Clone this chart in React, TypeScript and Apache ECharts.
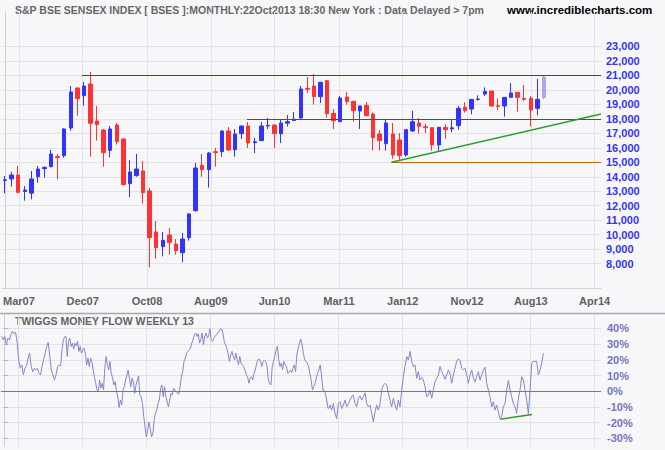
import React, { useEffect, useRef } from "react";
import * as echarts from "echarts";

// Monthly candles from Dec 2006 (index 0) to Oct 2013 (index 82): [open, close, low, high]
const candles: [number, number, number, number][] = [
  [13740, 13790, 12860, 14050], [13845, 14121, 13316, 14328], [14121, 12925, 12856, 14742], [12990, 13086, 12350, 13362],
  [12870, 13845, 12442, 14397], [14006, 14535, 13592, 14742], [14560, 14650, 13940, 14700], [14696, 15570, 14650, 15846],
  [15400, 15320, 13820, 15550], [15455, 17295, 15317, 17364], [17364, 19848, 17180, 20262], [20124, 19388, 18215, 20170],
  [19595, 20262, 18905, 20538], [20400, 17686, 15386, 21228], [17847, 17594, 16490, 18882], [17226, 15662, 14696, 17300],
  [15823, 17295, 15340, 17502], [17571, 16421, 16214, 17709], [16605, 13454, 13400, 16650], [13523, 14328, 12580, 15156],
  [14075, 14535, 14006, 15570], [14397, 12902, 12143, 15087], [13017, 9797, 7750, 13224], [10188, 9107, 8348, 10947],
  [9176, 9613, 8509, 10188], [9981, 9452, 8624, 10464], [9360, 8900, 8624, 9705], [8762, 9705, 8095, 10119],
  [9797, 11430, 9590, 11499], [11660, 14604, 11600, 14949], [14788, 14489, 14006, 15570], [14489, 15639, 13247, 15708],
  [15730, 15670, 14696, 15984], [15731, 17157, 15386, 17200], [17157, 15846, 15800, 17433], [15869, 16950, 15386, 17295],
  [16973, 17502, 16605, 17530], [17502, 16329, 15984, 17778], [16350, 16420, 15639, 16674], [16490, 17502, 16467, 17778],
  [17500, 17548, 17295, 18054], [17571, 16973, 15984, 17600], [16973, 17709, 16329, 17916], [17700, 17800, 17456, 18261],
  [17880, 17970, 17870, 18468], [18054, 20055, 18000, 20262], [20100, 20032, 19778, 20883], [20262, 19526, 18974, 21090],
  [19526, 20515, 19089, 20550], [20630, 18353, 18077, 20676], [18376, 17870, 17295, 18675], [17801, 19434, 17780, 19572],
  [19503, 19181, 18974, 19848], [19204, 18560, 17801, 19250], [18537, 18882, 17295, 18900], [18928, 18215, 18169, 19158],
  [18330, 16697, 15800, 18445], [16950, 16490, 15800, 17226], [16283, 17709, 15800, 17916], [16950, 15501, 15248, 17709],
  [16536, 15455, 15179, 17019], [15500, 17250, 15386, 17280], [17157, 17800, 17100, 18560], [17709, 17479, 16973, 18054],
  [17450, 17387, 17019, 17640], [17387, 16191, 15800, 17400], [16191, 17410, 15800, 17420], [17410, 17249, 16628, 17617],
  [17300, 17380, 17065, 17962], [17525, 18721, 17249, 18882], [18790, 18560, 18422, 19135], [18675, 19342, 18307, 19350],
  [19330, 19365, 19250, 19618], [19710, 19894, 19572, 20170], [19917, 18882, 18836, 19920], [18900, 18859, 18606, 19411],
  [18882, 19480, 18146, 19500], [19480, 19779, 19460, 20469], [19825, 19480, 18491, 19830], [19400, 19342, 19227, 20331],
  [19411, 18606, 17456, 19572], [18721, 19342, 18238, 20745], [19457, 20883, 19342, 20952],
];

// Twiggs Money Flow (weekly, %) in three stretches: start month index and step in months
const tmfAStart = -0.4, tmfAStep = 0.236;
const tmfA = [
  35, 32.8, 35, 29.6, 33.9, 32.8, 36.1, 38.2, 36.7, 37.6,
  30.7, 20.0, 14.7, 16.8, 10.4, 14.7, 16.2, 21.1, 24.3, 15.8,
  12.5, 14.7, 13.6, 14.7, 11.5, 10.4, 15.8, 20.0, 24.3, 28.6,
  31.1, 22.2, 13.6, 10.4, 7.2, 10.4, 15.8, 16.8, 16.2,
];
const tmfBStart = 8.77, tmfBStep = 0.1972;
const tmfB = [
  26.4, 32.8, 34.6, 35.0, 22.2, 31.8, 33.9, 28.6, 30.7, 26.9, 30.7,
  29.0, 31.8, 25.4, 28.6, 24.3, 26.4, 27.5, 24.3, 16.8, 21.1,
  15.8, 21.1, 19.0, 13.6, 8.9, 5.1, 0.8, 0.2, 7.2, 1.9,
  5.1, 0.8, 14.7, 22.2, 16.8, 13.6, 19.0, 11.5, 8.3, 4.0,
  6.1, 0.2, -3.5, -10.3, -5.6, -8.8, 0.8, 2.9, 7.2, 10.4,
  13.6, 8.3, 2.9, 8.3, 6.1, -1.3, 4.0, 7.2, 9.8, -2.4,
  -3.5, -7.8, -16.3, -22.7, -29.1, -24.8, -19.5, -23.8, -29.1, -27.0,
  -18.4, -14.2, -12.0, -7.8, -5.6, 1.9, 4.0, -3.5, 2.9, -3.5,
  -6.7, -9.9, -5.6, -1.3, -2.4, 1.9, 0.8, -0.3, -1.3, -1.8,
  2.9, 9.3, 12.5, 19.0, 21.1, 24.3, 25.4, 26.4, 27.5, 30.7,
  32.8, 36.1, 37.1, 35.0, 36.7, 30.7, 33.3, 37.1, 29.6, 35.0,
  37.1, 33.9, 35.0, 39.9, 32.8, 31.8, 33.9, 35.0, 36.1, 37.1,
  38.2, 39.7, 39.7, 37.1, 31.8, 29.6, 27.5, 24.3, 19.0, 23.2,
  25.4, 22.2, 20.0, 24.3, 20.0, 16.8, 22.2, 17.9, 16.8, 15.8,
  13.6, 10.4, 9.3, 5.1, 8.3, 9.3, 7.2, 11.5, 13.6, 17.9,
  20.0, 20.5, 19.0, 15.8, 19.0, 20.0, 19.0, 15.8, 7.2, 5.1,
  4.0, 15.8, 19.0, 22.2, 26.4, 28.6, 20.0, 15.8, 17.9, 13.6,
  19.0, 16.8, 15.8, 11.5, 12.5, 13.6, 11.9, 14.7, 16.8, 12.5,
  23.2, 27.5, 30.7, 33.3, 29.6, 24.3, 20.0, 19.0, 17.9, 15.8,
  11.5, 7.2, 0.8, 2.9, 5.1, 8.3, 11.5, 13.6, 16.8, 10.4,
  0.8, 0.8, -1.3, -5.6, -11.0, -10.3,
];
const tmfCStart = 49.5, tmfCStep = 0.2533;
const tmfC = [
  -8.8, -12.0, -7.8, -14.2, -17.4, -7.8, -6.7, -11.0, -8.8, -5.6,
  -9.9, -7.8, -5.6, -3.5, -2.4, -7.8, -9.9, -4.5, -3.0, -5.6,
  -3.5, -0.9, -7.8, -9.9, -8.8, -14.2, -19.5, -13.1, -8.8, -12.0,
  -7.8, 0.8, 4.0, 5.1, 4.0, -1.3, -5.6, -9.9, -4.5, -8.8,
  -12.0, -5.6, -9.9, 0.8, 9.3, 15.8, 22.2, 20.0, 25.4, 19.0,
  15.8, 16.8, 8.3, 12.5, 7.2, 8.9, 7.2, 2.9, -3.5, -2.4,
  0.8, -4.5, 0.8, 6.1, 8.3, 10.4, 15.8, 12.5, 10.4, 7.6,
  10.4, 13.6, 11.5, 5.1, 10.4, 14.7, 19.0, 20.7, 19.6, 14.7,
  13.6, 14.7, 10.4, 5.1, 10.4, 13.6, 8.3, 6.1, 9.3, 12.5,
  7.2, 10.4, 13.6, 15.3, 5.1, 0.8, -3.5, -9.9, -6.7, -12.0,
  -8.8, -13.1, -17.4, -15.9, -9.9, -7.8, 0.8, 6.8, 0.8, -3.5,
  -7.8, -9.9, -14.2, -4.5, 0.8, 9.3, 7.2, 0.8, -5.6, -14.2,
  0.8, 17.9, 19.0, 19.0, 19.0, 10.4, 13.6, 17.9, 24.3,
];

// Axis ticks
const xTickMonths = [2.1, 11.8, 21.6, 31.3, 41.0, 50.8, 60.5, 70.3, 80.0, 89.7];
const xTickLabels = ["Mar07", "Dec07", "Oct08", "Aug09", "Jun10", "Mar11", "Jan12", "Nov12", "Aug13", "Apr14"];
const priceTicks = [8000, 9000, 10000, 11000, 12000, 13000, 14000, 15000, 16000, 17000, 18000, 19000, 20000, 21000, 22000, 23000];
const tmfTicks = [-30, -20, -10, 0, 10, 20, 30, 40];

// Annotation levels: [value, starting month index]
const resistanceTop = [21000, 11.7];
const supportMid = [18000, 36.8];
const supportLow = [15000, 58.8];
const trendStart = [58.8, 15000];
const trendEnd = [90.68, 18329];
const tmfTrendStart = [75.4, -17.8];
const tmfTrendEnd = [80.2, -14.8];

const X_MIN = -0.5;
const X_MAX = 90.68;

const FONT = '"Liberation Sans", Arial, sans-serif';

export default function App() {
  const ref = useRef<HTMLDivElement>(null);

  useEffect(() => {
    if (!ref.current) return;
    const chart = echarts.init(ref.current, undefined, { renderer: "svg" });

    const candleData = candles.map((c, i) => {
      const v = [i, c[0], c[1], c[2], c[3]];
      if (i === candles.length - 1) {
        return { value: v, itemStyle: { color: "#a9a9f2", borderColor: "#a9a9f2" } };
      }
      return v;
    });

    const tmfData: number[][] = [];
    tmfA.forEach((v, i) => tmfData.push([tmfAStart + i * tmfAStep, v]));
    tmfB.forEach((v, i) => tmfData.push([tmfBStart + i * tmfBStep, v]));
    tmfC.forEach((v, i) => tmfData.push([tmfCStart + i * tmfCStep, v]));

    const xLabelFormatter = (v: number) => {
      const i = xTickMonths.findIndex((m) => Math.abs(m - v) < 0.01);
      return i >= 0 ? xTickLabels[i] : "";
    };

    const levelLine = (lvl: number[], color: string) => [
      { coord: [lvl[1], lvl[0]], lineStyle: { color, width: 1, type: "solid" } },
      { coord: [X_MAX, lvl[0]], lineStyle: { color, width: 1, type: "solid" } },
    ];

    const gridLineColor = "#e3e3e7";

    chart.setOption({
      animation: false,
      backgroundColor: "#f7f7f9",
      grid: [
        { left: 1, top: 12, width: 600, height: 276.3, containLabel: false },
        { left: 1, top: 315, width: 600, height: 131.7, containLabel: false },
      ],
      xAxis: [
        {
          type: "value", gridIndex: 0, min: X_MIN, max: X_MAX,
          axisLine: { show: true, lineStyle: { color: "#d4d4d8" } },
          axisTick: { show: false, customValues: xTickMonths },
          axisLabel: {
            customValues: xTickMonths, formatter: xLabelFormatter, color: "#606060",
            fontWeight: "bold", fontSize: 11, fontFamily: FONT, margin: 7,
          },
          splitLine: { show: true, lineStyle: { color: gridLineColor } },
        },
        {
          type: "value", gridIndex: 1, min: X_MIN, max: X_MAX,
          axisLine: { show: false },
          axisTick: { show: false, customValues: xTickMonths },
          axisLabel: { show: false, customValues: xTickMonths },
          splitLine: { show: true, lineStyle: { color: gridLineColor } },
        },
      ],
      yAxis: [
        {
          type: "value", gridIndex: 0, position: "right", min: 6303, max: 25368,
          axisLine: { show: true, lineStyle: { color: "#d0d0d4" } },
          axisTick: { show: false, customValues: priceTicks },
          axisLabel: {
            customValues: priceTicks, formatter: (v: number) => v.toLocaleString("en-US"),
            color: "#3535f2", fontWeight: "bold", fontSize: 11, fontFamily: FONT, margin: 5,
          },
          splitLine: { show: true, lineStyle: { color: gridLineColor } },
        },
        {
          type: "value", gridIndex: 1, position: "right", min: -35.3, max: 48.6,
          axisLine: { show: true, lineStyle: { color: "#d0d0d4" } },
          axisTick: { show: true, length: 4, lineStyle: { color: "#b4b4bc" }, customValues: tmfTicks },
          axisLabel: {
            customValues: tmfTicks, formatter: (v: number) => `${v}%`,
            color: "#7474c4", fontWeight: "bold", fontSize: 11, fontFamily: FONT, margin: 6,
          },
          splitLine: { show: true, lineStyle: { color: gridLineColor } },
        },
      ],
      series: [
        {
          type: "candlestick",
          xAxisIndex: 0, yAxisIndex: 0,
          data: candleData,
          encode: { x: 0, y: [1, 2, 3, 4] },
          barWidth: 4,
          itemStyle: {
            color: "#3333ff", color0: "#ff3333",
            borderColor: "#3333ff", borderColor0: "#ff3333", borderWidth: 1,
          },
          markLine: {
            silent: true, symbol: "none", label: { show: false }, animation: false,
            data: [
              levelLine(resistanceTop, "#0a700a"),
              levelLine(supportMid, "#e01010"),
              levelLine(supportLow, "#c86400"),
              [
                { coord: trendStart, lineStyle: { color: "#2f9a2f", width: 1.5, type: "solid" } },
                { coord: trendEnd, lineStyle: { color: "#2f9a2f", width: 1.5, type: "solid" } },
              ],
            ],
          },
        },
        {
          type: "line",
          xAxisIndex: 1, yAxisIndex: 1,
          data: tmfData,
          showSymbol: false,
          symbol: "none",
          lineStyle: { color: "#8585cc", width: 1 },
          markLine: {
            silent: true, symbol: "none", label: { show: false }, animation: false,
            data: [
              { yAxis: 0, lineStyle: { color: "#7070b8", width: 1, type: "solid" } },
              [
                { coord: tmfTrendStart, lineStyle: { color: "#2f9a2f", width: 1.5, type: "solid" } },
                { coord: tmfTrendEnd, lineStyle: { color: "#2f9a2f", width: 1.5, type: "solid" } },
              ],
            ],
          },
        },
      ],
      graphic: [
        {
          type: "line", silent: true,
          shape: { x1: 0, y1: 313.5, x2: 665, y2: 313.5 },
          style: { stroke: "#a8a8ac", lineWidth: 1.5 },
        },
        {
          type: "text", x: 15, y: 10, silent: true,
          style: {
            text: "S&P BSE SENSEX INDEX [ BSES ]:MONTHLY:22Oct2013 18:30 New York : Data Delayed > 7pm",
            font: `bold 10.5px ${FONT}`, fill: "#666666", verticalAlign: "middle",
          },
        },
        {
          type: "text", x: 507, y: 10, silent: true,
          style: {
            text: "www.incrediblecharts.com",
            font: `bold 11.5px ${FONT}`, fill: "#000000", verticalAlign: "middle",
          },
        },
        {
          type: "text", x: 15, y: 321, silent: true,
          style: {
            text: "TWIGGS MONEY FLOW WEEKLY 13",
            font: `bold 10.5px ${FONT}`, fill: "#626262", verticalAlign: "middle",
          },
        },
      ],
    });

    return () => chart.dispose();
  }, []);

  return (
    <div
      ref={ref}
      style={{ position: "fixed", left: 0, top: 0, width: 665, height: 450, background: "#f7f7f9" }}
    />
  );
}
